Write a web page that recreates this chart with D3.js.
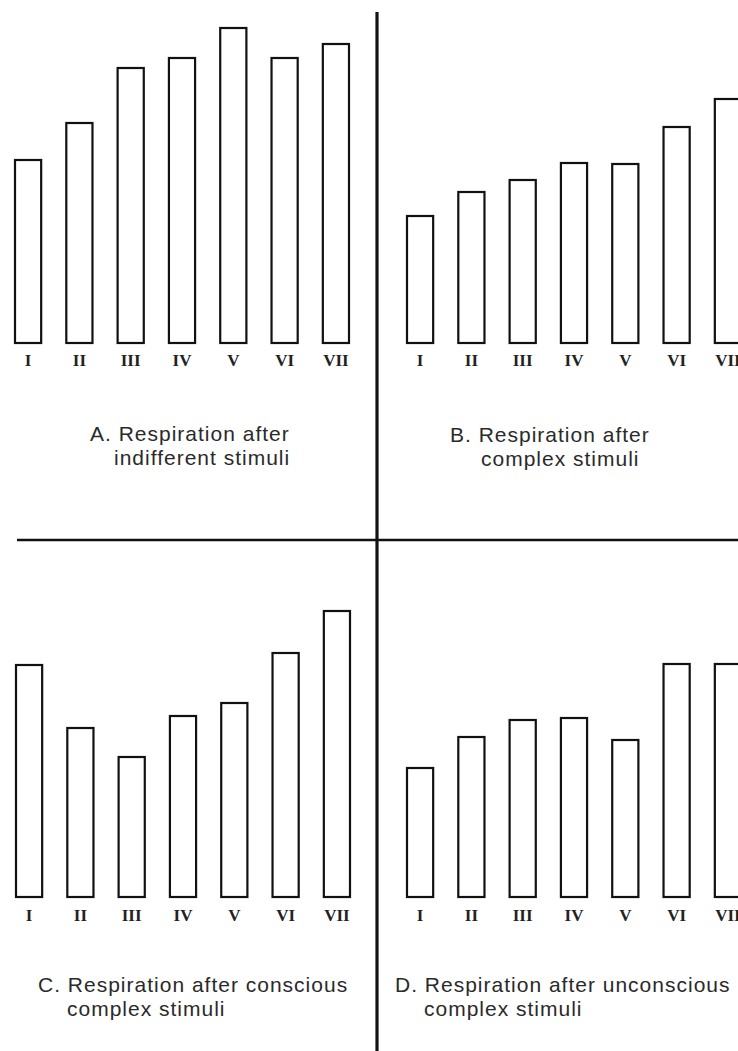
<!DOCTYPE html>
<html>
<head>
<meta charset="utf-8">
<script src="https://cdn.jsdelivr.net/npm/d3@7"></script>
<style>
  html, body { margin: 0; padding: 0; background: #fff; }
</style>
</head>
<body>
<div id="chart"></div>
<script>
// Trials I-VII, bar heights (arbitrary units)
const trials = ['I', 'II', 'III', 'IV', 'V', 'VI', 'VII'];
const indifferent = [183, 220, 275, 285, 315, 285, 299];
const complexStim = [127, 151, 163, 180, 179, 216, 244];
const conscious = [232, 169, 140, 181, 194, 244, 286];
const unconscious = [129, 160, 177, 179, 157, 233, 233];

const captionsA = ['A. Respiration after', 'indifferent stimuli'];
const captionsB = ['B. Respiration after', 'complex stimuli'];
const captionsC = ['C. Respiration after conscious', 'complex stimuli'];
const captionsD = ['D. Respiration after unconscious', 'complex stimuli'];

const width = 738;
const height = 1051;

const svg = d3.select('#chart')
  .append('svg')
  .attr('width', width)
  .attr('height', height)
  .attr('viewBox', [0, 0, width, height]);

// panel layout
const panels = [
  { values: indifferent, caption: captionsA, left: 15, base: 343, labelY: 366, capX: [90, 114], capY: 441 },
  { values: complexStim, caption: captionsB, left: 407, base: 343, labelY: 366, capX: [450, 481], capY: 442 },
  { values: conscious, caption: captionsC, left: 16, base: 897, labelY: 921, capX: [38, 67], capY: 992 },
  { values: unconscious, caption: captionsD, left: 407, base: 897, labelY: 921, capX: [395, 424], capY: 992 }
];

const barSpan = 334;

panels.forEach(p => {
  const x = d3.scaleBand()
    .domain(trials)
    .range([p.left, p.left + barSpan])
    .paddingInner(0.49)
    .paddingOuter(0);

  const y = d3.scaleLinear()
    .domain([0, 320])
    .range([p.base, p.base - 320]);

  const g = svg.append('g');

  g.selectAll('rect')
    .data(p.values)
    .join('rect')
    .attr('x', (d, i) => x(trials[i]))
    .attr('y', d => y(d))
    .attr('width', x.bandwidth())
    .attr('height', d => y(0) - y(d))
    .attr('fill', '#fff')
    .attr('stroke', '#111')
    .attr('stroke-width', 2.2);

  // roman numeral labels
  g.selectAll('text.num')
    .data(trials)
    .join('text')
    .attr('class', 'num')
    .attr('x', d => x(d) + x.bandwidth() / 2)
    .attr('y', p.labelY)
    .attr('text-anchor', 'middle')
    .attr('font-family', 'Liberation Serif, serif')
    .attr('font-weight', 'bold')
    .attr('font-size', 17)
    .attr('fill', '#222')
    .text(d => d);

  // caption
  g.selectAll('text.cap')
    .data(p.caption)
    .join('text')
    .attr('class', 'cap')
    .attr('x', (d, i) => p.capX[i])
    .attr('y', (d, i) => p.capY + i * 24)
    .attr('font-family', 'Liberation Sans, Arial, sans-serif')
    .attr('font-size', 21)
    .attr('letter-spacing', 1)
    .attr('fill', '#2a2a2a')
    .text(d => d);
});

// dividing lines
svg.append('line')
  .attr('x1', 377).attr('x2', 377)
  .attr('y1', 12).attr('y2', height)
  .attr('stroke', '#111')
  .attr('stroke-width', 3.2);

svg.append('line')
  .attr('x1', 17).attr('x2', width)
  .attr('y1', 540).attr('y2', 540)
  .attr('stroke', '#111')
  .attr('stroke-width', 2.5);
</script>
</body>
</html>
